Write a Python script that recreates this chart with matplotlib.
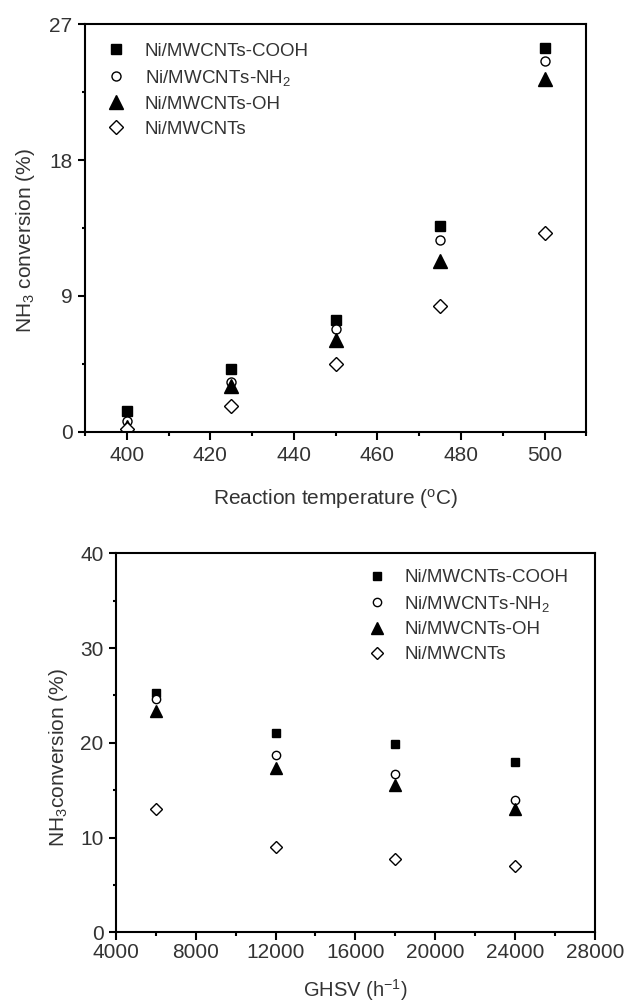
import matplotlib
matplotlib.use("Agg")
import matplotlib.pyplot as plt
from matplotlib.ticker import MultipleLocator

plt.rcParams['font.family'] = ['Liberation Sans', 'DejaVu Sans']
plt.rcParams['mathtext.fontset'] = 'custom'
plt.rcParams['mathtext.rm'] = 'Liberation Sans'
plt.rcParams['mathtext.default'] = 'regular'

# ---- data ----
series_labels = ['Ni/MWCNTs-COOH', 'Ni/MWCNTs-NH$_2$', 'Ni/MWCNTs-OH', 'Ni/MWCNTs']

temperature = [400, 425, 450, 475, 500]
temp_cooh = [1.4, 4.15, 7.4, 13.6, 25.4]
temp_nh2 = [0.7, 3.3, 6.8, 12.7, 24.55]
temp_oh = [0.3, 3.05, 6.1, 11.3, 23.4]
temp_plain = [0.2, 1.7, 4.5, 8.35, 13.2]

ghsv = [6000, 12000, 18000, 24000]
ghsv_cooh = [25.3, 21.0, 19.9, 18.0]
ghsv_nh2 = [24.65, 18.7, 16.7, 14.0]
ghsv_oh = [23.35, 17.3, 15.5, 13.05]
ghsv_plain = [13.05, 8.95, 7.7, 7.0]

temp_yticks = [0, 9, 18, 27]
temp_xticks = [400, 420, 440, 460, 480, 500]
ghsv_yticks = [0, 10, 20, 30, 40]
ghsv_xticks = [4000, 8000, 12000, 16000, 20000, 24000, 28000]

TXT = '#333333'

styles = [
    dict(marker='s', ms=6.5, mfc='black', mec='black', mew=1.0),
    dict(marker='o', ms=6.5, mfc='white', mec='black', mew=1.0),
    dict(marker='^', ms=9.5, mfc='black', mec='black', mew=1.0),
    dict(marker='D', ms=7, mfc='white', mec='black', mew=1.0),
]

fig = plt.figure(figsize=(6.24, 10.01), dpi=100)
W, H = 624, 1001

def make_axes(left, top, right, bottom):
    return fig.add_axes([left / W, 1 - bottom / H, (right - left) / W, (bottom - top) / H])

def style_axes(ax):
    for s in ax.spines.values():
        s.set_linewidth(1.5)
    ax.tick_params(which='both', direction='out', top=False, right=False,
                   width=1.5, colors='black', labelcolor=TXT, labelsize=15)
    ax.tick_params(axis='x', which='major', length=6, pad=4)
    ax.tick_params(axis='x', which='minor', length=3)
    ax.tick_params(axis='y', which='major', length=5, pad=4)
    ax.tick_params(axis='y', which='minor', length=2.5)

# ---- top: temperature ----
ax1 = make_axes(85, 24.3, 586.3, 431.7)
for ys, lab, st in zip([temp_cooh, temp_nh2, temp_oh, temp_plain], series_labels, styles):
    ax1.plot(temperature, ys, linestyle='none', label=lab, **st)
ax1.set_xlim(390, 510)
ax1.set_ylim(0, 27)
ax1.set_xticks(temp_xticks)
ax1.set_yticks(temp_yticks)
ax1.xaxis.set_minor_locator(MultipleLocator(10))
ax1.yaxis.set_minor_locator(MultipleLocator(4.5))
style_axes(ax1)
ax1.set_xlabel('Reaction temperature ($^{o}$C)', fontsize=15, color=TXT)
ax1.set_ylabel('NH$_3$ conversion (%)', fontsize=15, color=TXT)
ax1.xaxis.set_label_coords(0.5, -0.135)
ax1.yaxis.set_label_coords(-0.095, 0.47)
ax1.legend(loc='upper left', bbox_to_anchor=(0.044, 0.955), frameon=False,
           fontsize=13.5, handlelength=1.0, handletextpad=1.0, labelspacing=0.42,
           borderpad=0, borderaxespad=0, labelcolor=TXT)

# ---- bottom: GHSV ----
ax2 = make_axes(116, 553.3, 594.7, 932.3)
for ys, lab, st in zip([ghsv_cooh, ghsv_nh2, ghsv_oh, ghsv_plain], series_labels, styles):
    st2 = dict(st)
    st2['ms'] = st['ms'] * 0.92
    ax2.plot(ghsv, ys, linestyle='none', label=lab, **st2)
ax2.set_xlim(4000, 28000)
ax2.set_ylim(0, 40)
ax2.set_xticks(ghsv_xticks)
ax2.set_yticks(ghsv_yticks)
ax2.xaxis.set_minor_locator(MultipleLocator(2000))
ax2.yaxis.set_minor_locator(MultipleLocator(5))
style_axes(ax2)
ax2.tick_params(axis='x', which='major', pad=2)
ax2.set_xlabel('GHSV (h$^{-1}$)', fontsize=14.5, color=TXT)
ax2.set_ylabel('NH$_3$conversion (%)', fontsize=15, color=TXT)
ax2.xaxis.set_label_coords(0.5, -0.118)
ax2.yaxis.set_label_coords(-0.097, 0.46)
ax2.legend(loc='upper left', bbox_to_anchor=(0.526, 0.958), frameon=False,
           fontsize=13.5, handlelength=1.0, handletextpad=0.95, labelspacing=0.4,
           borderpad=0, borderaxespad=0, labelcolor=TXT)

fig.savefig('out.png', dpi=100)
